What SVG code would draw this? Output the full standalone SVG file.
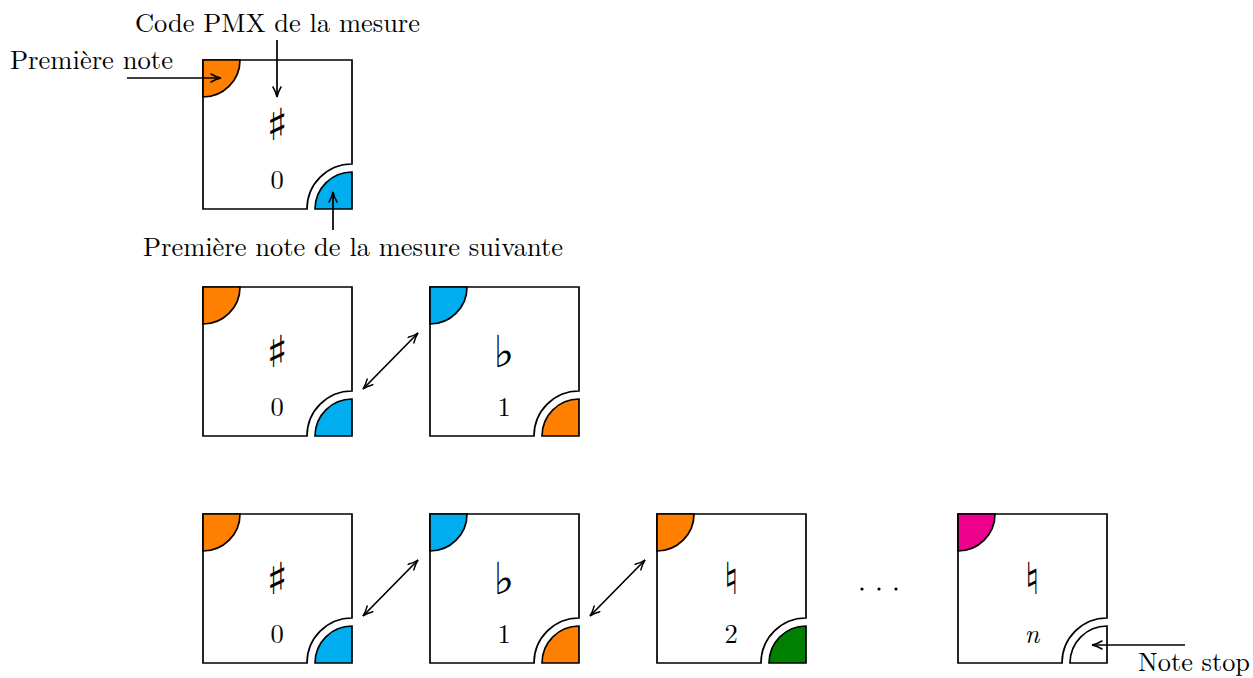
<svg xmlns="http://www.w3.org/2000/svg" width="1253" height="678" viewBox="0 0 1253 678">
<style>
.box{fill:#fff;stroke:#000;stroke-width:1.7}
.q{stroke:#000;stroke-width:1.7}
.or{fill:#FF8000}.bl{fill:#00AEEF}.gr{fill:#008000}.mg{fill:#EC008C}.wh{fill:#fff}
.lbl{font-family:"Latin Modern Roman","Liberation Serif",serif;font-size:26.5px;fill:#000;text-anchor:middle}
.num{font-family:"Latin Modern Roman","Liberation Serif",serif;font-size:26.5px;fill:#000;text-anchor:middle}
.acc{font-family:"DejaVu Sans",sans-serif;font-size:44px;fill:#000;text-anchor:middle}
.arr{stroke:#000;stroke-width:1.7;fill:none}
</style>
<defs>
<marker id="ah" viewBox="0 0 12 10" refX="11" refY="5" markerWidth="12" markerHeight="10" markerUnits="userSpaceOnUse" orient="auto-start-reverse">
<path d="M1,1 Q6,4 11,5 Q6,6 1,9" fill="none" stroke="#000" stroke-width="1.5" stroke-linecap="round"/>
</marker>
<path id="tile" d="M0,0 H149 V104 A45,45 0 0 0 104,149 H0 Z"/>
<path id="tl" d="M0,0 H37 A37,37 0 0 1 0,37 Z"/>
<path id="br" d="M149,149 V112 A37,37 0 0 0 112,149 Z"/>
</defs>

<g id="tile-top" transform="translate(203,60)">
<use href="#tile" class="box"/>
<use href="#tl" class="q or"/>
<use href="#br" class="q bl"/>
<text class="acc" x="74" y="80">♯</text>
<text class="num" x="74" y="129">0</text>
</g>

<g id="tile-r2-0" transform="translate(203,287)">
<use href="#tile" class="box"/>
<use href="#tl" class="q or"/>
<use href="#br" class="q bl"/>
<text class="acc" x="74" y="80">♯</text>
<text class="num" x="74" y="129">0</text>
</g>
<g id="tile-r2-1" transform="translate(430,287)">
<use href="#tile" class="box"/>
<use href="#tl" class="q bl"/>
<use href="#br" class="q or"/>
<text class="acc" x="74" y="80">♭</text>
<text class="num" x="74" y="129">1</text>
</g>

<g id="tile-r3-0" transform="translate(203,514)">
<use href="#tile" class="box"/>
<use href="#tl" class="q or"/>
<use href="#br" class="q bl"/>
<text class="acc" x="74" y="80">♯</text>
<text class="num" x="74" y="129">0</text>
</g>
<g id="tile-r3-1" transform="translate(430,514)">
<use href="#tile" class="box"/>
<use href="#tl" class="q bl"/>
<use href="#br" class="q or"/>
<text class="acc" x="74" y="80">♭</text>
<text class="num" x="74" y="129">1</text>
</g>
<g id="tile-r3-2" transform="translate(657,514)">
<use href="#tile" class="box"/>
<use href="#tl" class="q or"/>
<use href="#br" class="q gr"/>
<text class="acc" x="74" y="80">♮</text>
<text class="num" x="74" y="129">2</text>
</g>
<g id="tile-r3-n" transform="translate(958,514)">
<use href="#tile" class="box"/>
<use href="#tl" class="q mg"/>
<use href="#br" class="q wh"/>
<text class="acc" x="74" y="80">♮</text>
<text class="num" x="74" y="129" font-style="italic">n</text>
</g>

<g id="dots">
<circle cx="862" cy="589" r="1.6"/>
<circle cx="879" cy="589" r="1.6"/>
<circle cx="896" cy="589" r="1.6"/>
</g>

<g id="labels">
<text class="lbl" x="277.5" y="32" textLength="285" lengthAdjust="spacingAndGlyphs">Code PMX de la mesure</text>
<text class="lbl" x="91.5" y="68.5" textLength="163" lengthAdjust="spacingAndGlyphs">Première note</text>
<text class="lbl" x="353" y="256" textLength="420" lengthAdjust="spacingAndGlyphs">Première note de la mesure suivante</text>
<text class="lbl" x="1194" y="670.5" textLength="112" lengthAdjust="spacingAndGlyphs">Note stop</text>
</g>

<g id="connectors">
<line class="arr" x1="127" y1="78" x2="221" y2="78" marker-end="url(#ah)"/>
<line class="arr" x1="277" y1="40" x2="277" y2="97" marker-end="url(#ah)"/>
<line class="arr" x1="333" y1="230" x2="333" y2="192" marker-end="url(#ah)"/>
<line class="arr" x1="363" y1="389" x2="418" y2="333" marker-start="url(#ah)" marker-end="url(#ah)"/>
<line class="arr" x1="363" y1="616" x2="418" y2="560" marker-start="url(#ah)" marker-end="url(#ah)"/>
<line class="arr" x1="590" y1="616" x2="645" y2="560" marker-start="url(#ah)" marker-end="url(#ah)"/>
<line class="arr" x1="1185" y1="645" x2="1092" y2="645" marker-end="url(#ah)"/>
</g>
</svg>
